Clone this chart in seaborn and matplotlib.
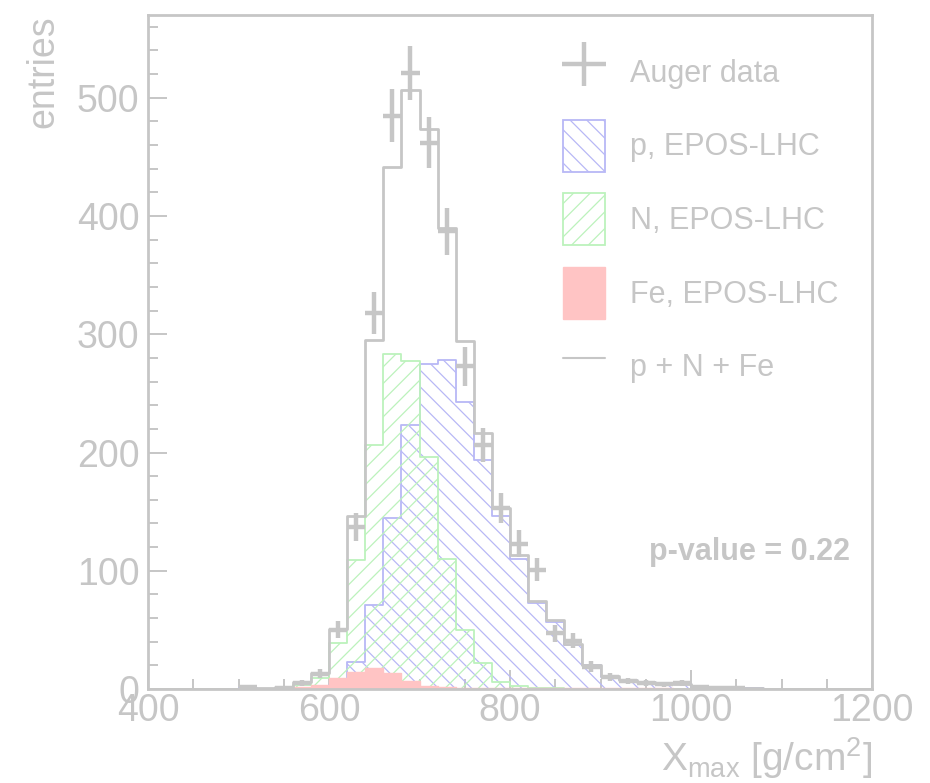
import numpy as np
import pandas as pd
import matplotlib
matplotlib.use("Agg")
import matplotlib.pyplot as plt
import seaborn as sns
from matplotlib.lines import Line2D
from matplotlib.patches import Patch

# Xmax bin centres (20 g/cm2 bins)
bin_centers = [510, 530, 550, 570, 590, 610, 630, 650, 670, 690,
               710, 730, 750, 770, 790, 810, 830, 850, 870, 890,
               910, 930, 950, 970, 990, 1010, 1030, 1050, 1070, 1090]

# fitted fractions (EPOS-LHC templates)
p_counts = [0.5, 0.3, 0.5, 1.0, 1.0, 3.0, 23, 71, 145, 223,
            275, 278, 243, 194, 146, 110, 73, 57, 37, 20,
            10, 7.5, 5.5, 4.5, 4, 2, 1.5, 1.2, 0.6, 0.3]
n_counts = [0.3, 0.3, 1.0, 3.5, 9, 38.7, 109, 206, 283, 277,
            196, 110, 50, 22, 6, 2.5, 1, 0.5, 0.3, 0.2,
            0.1, 0, 0, 0, 0, 0, 0, 0, 0, 0]
fe_counts = [0.1, 0.2, 0.5, 1.5, 3.5, 9, 14.5, 18, 13.5, 6.5,
             2.5, 1.5, 1.0, 0.8, 0.7, 0.5, 0.5, 0.5, 0.5, 0.5,
             0.5, 0.5, 0.5, 0.5, 0.4, 0, 0, 0, 0, 0]

# Auger data
data_counts = [2, 0, 1, 5, 13, 50, 137, 318, 485, 521,
               462, 387, 273, 206, 153, 123, 101, 47, 41, 19,
               10, 7, 5, 4, 5, 2, 1, 1, 0, 0]
data_errors = [1.4, 0, 1.0, 2.2, 3.6, 7.1, 11.7, 17.8, 22, 22.8,
               21.5, 19.7, 16.5, 14.4, 12.4, 11.1, 10, 6.9, 6.4, 4.4,
               3.2, 2.6, 2.2, 2.0, 2.2, 1.4, 1.0, 1.0, 0, 0]

GRAY = "#c6c6c6"
BLUE = "#b8b8f6"
GREEN = "#bcf2bc"
RED = "#ffc4c4"


def main():
    sns.set_theme(style="ticks")
    plt.rcParams["font.family"] = ["Liberation Sans", "DejaVu Sans"]
    plt.rcParams["mathtext.fontset"] = "custom"
    plt.rcParams["mathtext.rm"] = "Liberation Sans"
    plt.rcParams["mathtext.it"] = "Liberation Sans"
    plt.rcParams["hatch.linewidth"] = 0.9

    df = pd.DataFrame({"xmax": bin_centers, "p": p_counts, "N": n_counts,
                       "Fe": fe_counts, "data": data_counts, "err": data_errors})
    df["total"] = df["p"] + df["N"] + df["Fe"]

    edges = list(range(400, 1201, 20))

    fig = plt.figure(figsize=(9.3, 7.83), dpi=100)
    ax = fig.add_axes([148 / 930, 1 - 689 / 783, 724 / 930, 674 / 783])

    sns.histplot(df, x="xmax", weights="p", bins=edges, element="step", fill=True,
                 color=BLUE, facecolor="none", edgecolor=BLUE, hatch="\\\\",
                 linewidth=1.3, ax=ax)
    sns.histplot(df, x="xmax", weights="N", bins=edges, element="step", fill=True,
                 color=GREEN, facecolor="none", edgecolor=GREEN, hatch="//",
                 linewidth=1.3, ax=ax)
    sns.histplot(df, x="xmax", weights="Fe", bins=edges, element="step", fill=True,
                 color=RED, facecolor=RED, edgecolor=RED, linewidth=1.0, ax=ax)
    sns.histplot(df, x="xmax", weights="total", bins=edges, element="step", fill=False,
                 color=GRAY, linewidth=2.0, ax=ax)

    pts = df[df["data"] > 0]
    ax.errorbar(pts["xmax"], pts["data"], xerr=10, yerr=pts["err"], fmt="none",
                ecolor=GRAY, elinewidth=3.2, capsize=0, zorder=5)

    ax.set_xlim(400, 1200)
    ax.set_ylim(0, 570)
    ax.set_xticks([400, 600, 800, 1000, 1200])
    ax.set_xticks(np.arange(400, 1201, 50), minor=True)
    ax.set_yticks([0, 100, 200, 300, 400, 500])
    ax.set_yticks(np.arange(0, 571, 20), minor=True)

    ax.tick_params(which="both", direction="in", color=GRAY, labelcolor=GRAY,
                   width=1.4, top=False, right=False)
    ax.tick_params(which="major", length=14, labelsize=27)
    ax.tick_params(which="minor", length=7)
    ax.tick_params(axis="x", pad=3)
    ax.tick_params(axis="y", pad=6)
    for s in ax.spines.values():
        s.set_color(GRAY)
        s.set_linewidth(2.0)

    ax.set_xlabel(r"X$_{\rm max}$ [g/cm$^{2}$]", loc="right", fontsize=28,
                  color=GRAY, labelpad=4)
    ax.set_ylabel("entries", loc="top", fontsize=27, color=GRAY, labelpad=11)

    ax.text(0.9696, 0.203, "p-value = 0.22", transform=ax.transAxes,
            ha="right", va="center", fontsize=22, fontweight="bold", color=GRAY)

    handles = [
        Line2D([], [], color=GRAY, marker="+", markersize=32, markeredgewidth=3.2,
               linestyle="none"),
        Patch(facecolor="none", edgecolor=BLUE, hatch="\\\\", linewidth=1.3),
        Patch(facecolor="none", edgecolor=GREEN, hatch="//", linewidth=1.3),
        Patch(facecolor=RED, edgecolor=RED),
        Line2D([], [], color=GRAY, linewidth=1.5),
    ]
    labels = ["Auger data", "p, EPOS-LHC", "N, EPOS-LHC", "Fe, EPOS-LHC", "p + N + Fe"]
    ax.legend(handles, labels, loc="upper left", bbox_to_anchor=(0.573, 0.954),
              frameon=False, borderpad=0, borderaxespad=0, fontsize=22,
              labelcolor=GRAY, handlelength=1.37, handleheight=2.24,
              handletextpad=0.82, labelspacing=0.71)

    fig.savefig("out.png", dpi=100, facecolor="white")


if __name__ == "__main__":
    main()
